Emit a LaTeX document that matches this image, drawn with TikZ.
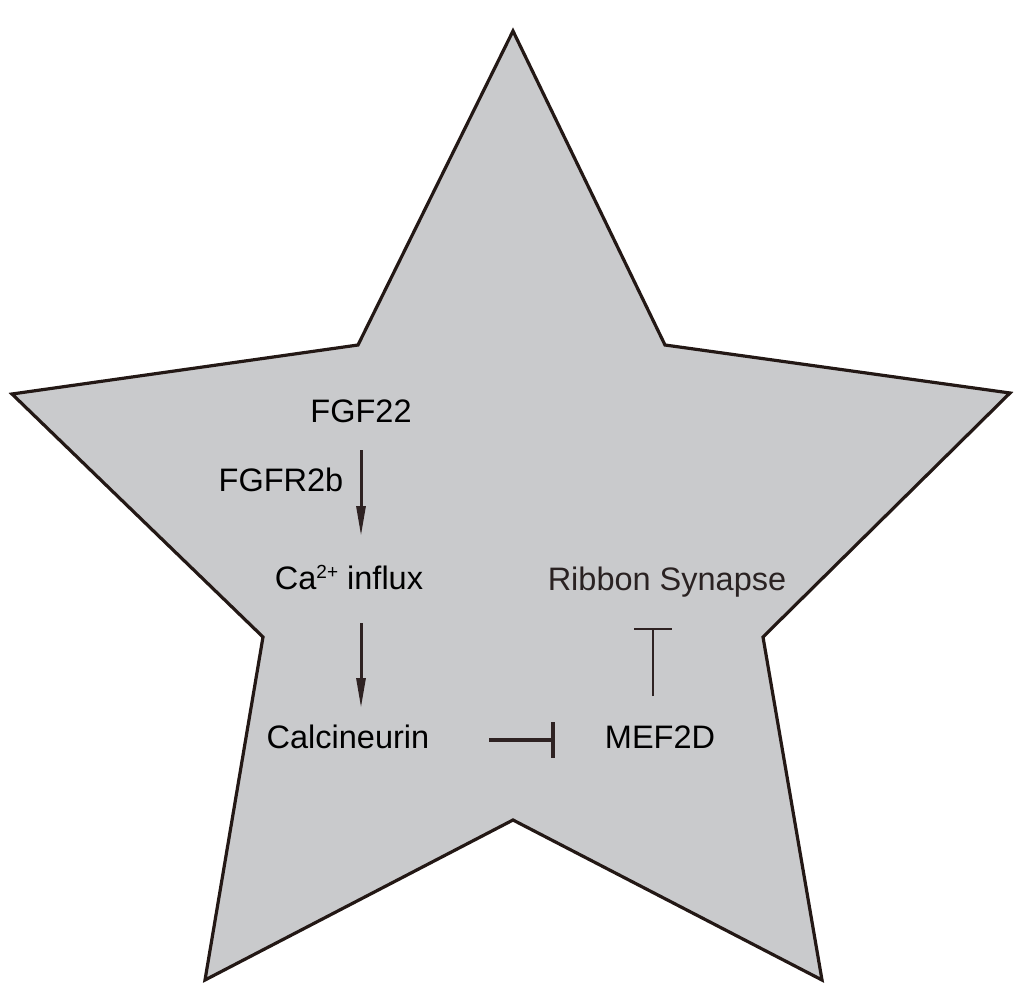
\documentclass[tikz,border=0pt]{standalone}
\usepackage{fontspec}
\setmainfont{Liberation Sans}
\usetikzlibrary{arrows.meta}
\definecolor{starfill}{HTML}{C9CACC}
\definecolor{starline}{HTML}{231815}
\definecolor{arrcol}{HTML}{2E2222}
\definecolor{ribcol}{HTML}{2A2222}
\begin{document}
\begin{tikzpicture}[x=1pt,y=-1pt,
  lbl/.style={anchor=base,inner sep=0pt,font=\fontsize{32.5}{38}\selectfont},
  actarrow/.style={draw=arrcol,line width=3pt,-{Triangle[length=30pt,width=9pt]}},
  inhib/.style={draw=arrcol,line width=3.5pt,-{Bar[width=36pt,line width=3.5pt]}},
  inhibthin/.style={draw=arrcol,line width=2.2pt,-{Bar[width=38pt,line width=2.2pt]}}]
\useasboundingbox (0,0) rectangle (1020,990);
\draw[fill=starfill,draw=starline,line width=3.2pt,line join=miter]
  (513,31) -- (665,345) -- (1010,393) -- (763,637) -- (822,980) -- (513,820)
  -- (205,980) -- (263,637) -- (12,394) -- (358,345) -- cycle;
\node[lbl] (fgf) at (361,422) {FGF22};
\node[lbl] (fgfr) at (281,491) {FGFR2b};
\node[lbl] (ca) at (349,589) {Ca\raisebox{11pt}{\fontsize{19}{20}\selectfont 2+} influx};
\node[lbl] (cal) at (348,748) {Calcineurin};
\node[lbl] (mef) at (660,748) {MEF2D};
\node[lbl,text=ribcol] (rib) at (667,590) {Ribbon Synapse};
\coordinate (a1s) at (361,450);
\coordinate (a1e) at (361,536);
\coordinate (a2s) at (361,623);
\coordinate (a2e) at (361,708);
\draw[actarrow] (fgf.south |- a1s) -- (fgf.south |- a1e);
\draw[actarrow] (fgf.south |- a2s) -- (fgf.south |- a2e);
\draw[inhib] ([xshift=60pt,yshift=8pt]cal.base east) -- ([xshift=-50pt,yshift=8pt]mef.base west);
\draw[inhibthin] ([xshift=-7pt,yshift=52pt]mef.base) -- ([xshift=-14pt,yshift=-38pt]rib.base);
\end{tikzpicture}
\end{document}
